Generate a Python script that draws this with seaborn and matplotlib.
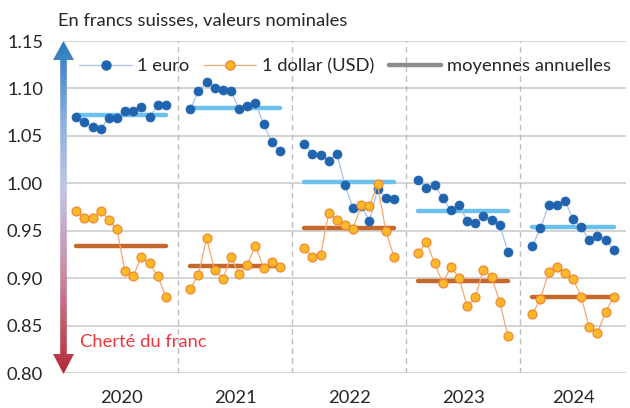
import numpy as np
import pandas as pd
import matplotlib
matplotlib.use("Agg")
import matplotlib.pyplot as plt
import seaborn as sns
from matplotlib.lines import Line2D
from matplotlib.patches import Polygon
from matplotlib.colors import LinearSegmentedColormap

# Monthly exchange rates in CHF (2024: Jan-Nov)
years = [2020, 2021, 2022, 2023, 2024]
eur_2020 = [1.0704, 1.0644, 1.0590, 1.0573, 1.0690, 1.0683, 1.0767, 1.0760, 1.0806, 1.0697, 1.0823, 1.0823]
eur_2021 = [1.0778, 1.0968, 1.1070, 1.1006, 1.0982, 1.0975, 1.0778, 1.0813, 1.0848, 1.0626, 1.0436, 1.0337]
eur_2022 = [1.0419, 1.0313, 1.0298, 1.0239, 1.0313, 0.9978, 0.9735, 0.9760, 0.9605, 0.9936, 0.9848, 0.9837]
eur_2023 = [1.0038, 0.9951, 0.9982, 0.9844, 0.9714, 0.9770, 0.9605, 0.9583, 0.9653, 0.9618, 0.9558, 0.9280]
eur_2024 = [0.9336, 0.9527, 0.9766, 0.9774, 0.9816, 0.9622, 0.9534, 0.9397, 0.9442, 0.9404, 0.9298]

usd_2020 = [0.9703, 0.9636, 0.9636, 0.9710, 0.9615, 0.9513, 0.9072, 0.9023, 0.9224, 0.9157, 0.9023, 0.8804]
usd_2021 = [0.8886, 0.9034, 0.9418, 0.9087, 0.8992, 0.9224, 0.9044, 0.9143, 0.9344, 0.9108, 0.9175, 0.9122]
usd_2022 = [0.9315, 0.9220, 0.9241, 0.9690, 0.9612, 0.9558, 0.9520, 0.9774, 0.9760, 0.9988, 0.9502, 0.9227]
usd_2023 = [0.9263, 0.9380, 0.9157, 0.8949, 0.9114, 0.9005, 0.8702, 0.8801, 0.9090, 0.9016, 0.8744, 0.8392]
usd_2024 = [0.8622, 0.8780, 0.9061, 0.9114, 0.9055, 0.8992, 0.8804, 0.8480, 0.8424, 0.8646, 0.8804]

eur_means = [1.0718, 1.0795, 1.0017, 0.9710, 0.9537]
usd_means = [0.9344, 0.9129, 0.9530, 0.8966, 0.8797]

eur = [eur_2020, eur_2021, eur_2022, eur_2023, eur_2024]
usd = [usd_2020, usd_2021, usd_2022, usd_2023, usd_2024]

# each year takes 14 category slots: blank, 12 months, blank
rows = []
mean_rows = []
for k, yr in enumerate(years):
    start = 14 * k + 1
    for m in range(len(eur[k])):
        rows.append({"year": yr, "slot": start + m, "eur": eur[k][m], "usd": usd[k][m]})
    for s in [start, start + len(eur[k]) - 1]:
        mean_rows.append({"year": yr, "slot": s, "eur": eur_means[k], "usd": usd_means[k]})
df = pd.DataFrame(rows)
means = pd.DataFrame(mean_rows)

sns.set_theme(style="white")
plt.rcParams["font.family"] = ["Lato", "DejaVu Sans"]
FS = 13.2

fig = plt.figure(figsize=(6.3, 4.08), dpi=100)
ax = fig.add_axes([64 / 630, 1 - 373 / 408, 562 / 630, 332 / 408])

c_eur, c_eur_line, c_eur_mean = "#2064B0", "#A8C2E6", "#6CC0EC"
c_usd, c_usd_edge, c_usd_line, c_usd_mean = "#FBB829", "#F2812E", "#F5A86E", "#C4682B"

sns.lineplot(data=means, x="slot", y="eur", units="year", estimator=None, color=c_eur_mean,
             lw=3.2, solid_capstyle="round", ax=ax, zorder=2)
sns.lineplot(data=means, x="slot", y="usd", units="year", estimator=None, color=c_usd_mean,
             lw=3.2, solid_capstyle="round", ax=ax, zorder=2)
sns.lineplot(data=df, x="slot", y="eur", units="year", estimator=None, color=c_eur_line, lw=0.9,
             marker="o", markersize=6.5, markerfacecolor=c_eur, markeredgecolor=c_eur,
             markeredgewidth=0.5, ax=ax, zorder=3)
sns.lineplot(data=df, x="slot", y="usd", units="year", estimator=None, color=c_usd_line, lw=0.9,
             marker="o", markersize=6.5, markerfacecolor=c_usd, markeredgecolor=c_usd_edge,
             markeredgewidth=0.8, ax=ax, zorder=3)

ax.set_xlim(-0.5, 68.5)
ax.set_ylim(0.80, 1.15)
ax.set_yticks(np.arange(0.80, 1.151, 0.05))
ax.set_yticklabels([f"{v:.2f}" for v in np.arange(0.80, 1.151, 0.05)])
ax.grid(axis="y", color="#C8C8C8", lw=1.1)
for d in [13.5, 27.5, 41.5, 55.5]:
    ax.axvline(d, color="#BDBDBD", lw=1, ls=(0, (4, 3)), zorder=1)
ax.set_xticks([6.5, 20.5, 34.5, 48.5, 62])
ax.set_xticklabels([str(y) for y in years])
ax.tick_params(axis="x", length=0, pad=12.5, labelsize=FS)
ax.tick_params(axis="y", length=0, pad=15, labelsize=FS)
ax.set_xlabel("")
ax.set_ylabel("")
for sp in ax.spines.values():
    sp.set_visible(False)

handles = [
    Line2D([], [], color=c_eur_line, lw=0.9, marker="o", markersize=6.5,
           markerfacecolor=c_eur, markeredgecolor=c_eur),
    Line2D([], [], color=c_usd_line, lw=0.9, marker="o", markersize=6.5,
           markerfacecolor=c_usd, markeredgecolor=c_usd_edge),
    Line2D([], [], color="#8C8C8C", lw=3.2),
]
ax.legend(handles, ["1 euro", "1 dollar (USD)", "moyennes annuelles"], ncol=3, frameon=False,
          loc="center", bbox_to_anchor=(0.5, 0.925), fontsize=FS, handlelength=2.85,
          handletextpad=0.3, columnspacing=0.8)

fig.text(58 / 630, 1 - 21 / 408, "En francs suisses, valeurs nominales", fontsize=FS,
         va="center", ha="left")
fig.text(80 / 630, 1 - 342 / 408, "Cherté du franc", fontsize=FS, va="center", ha="left",
         color="#E8383E")

# gradient double arrow on the left axis
aax = fig.add_axes([52.5 / 630, 1 - 374 / 408, 22 / 630, 333 / 408])
H = 333
arrow = [(11, H), (21.5, H - 19), (14.3, H - 19), (14.3, 20), (21.5, 20), (11, 0),
         (0.5, 20), (7.7, 20), (7.7, H - 19), (0.5, H - 19)]
cmap = LinearSegmentedColormap.from_list(
    "cherte", [(0.0, "#B42A34"), (0.3, "#C98BA5"), (0.55, "#C2C4E6"),
               (0.75, "#90B2DE"), (1.0, "#2C78BE")])
grad = np.linspace(0, 1, 256).reshape(-1, 1)
img = aax.imshow(grad, cmap=cmap, origin="lower", extent=[0, 22, 0, H], aspect="auto")
poly = Polygon(arrow, closed=True, transform=aax.transData, facecolor="none", edgecolor="none")
aax.add_patch(poly)
img.set_clip_path(poly)
aax.set_xlim(0, 22)
aax.set_ylim(0, H)
aax.axis("off")

fig.savefig("out.png", dpi=100)
